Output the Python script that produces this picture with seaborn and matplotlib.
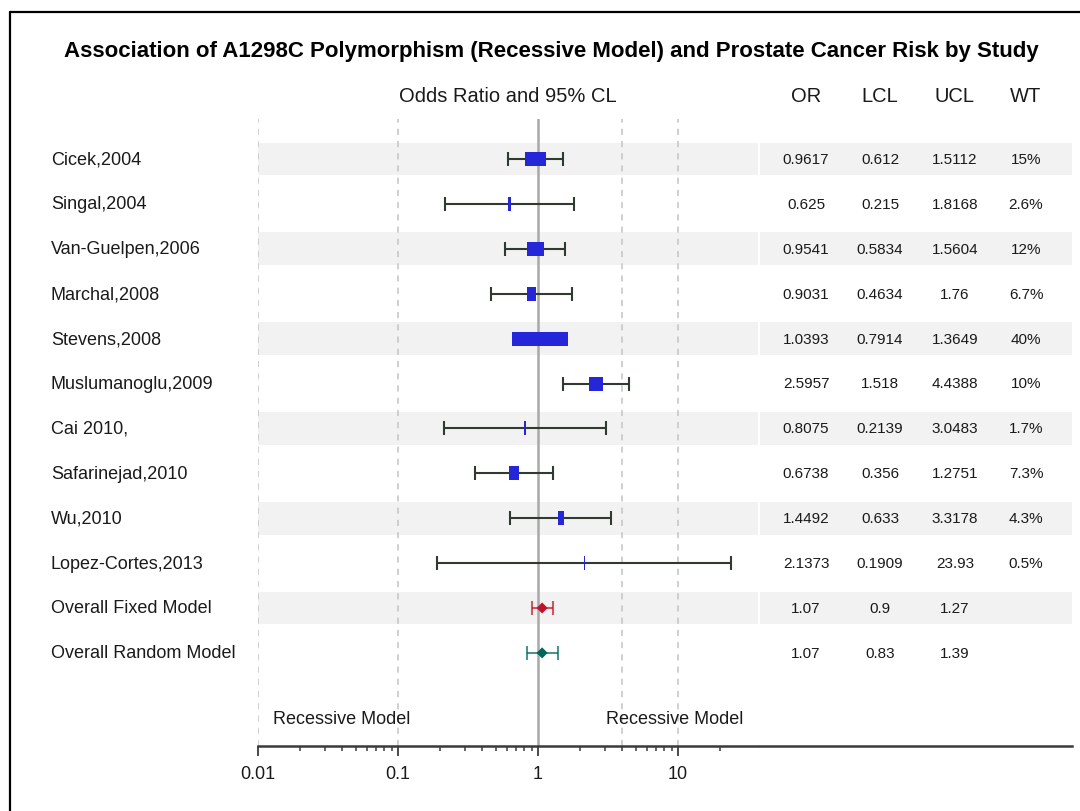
import numpy as np
import pandas as pd
import matplotlib
matplotlib.use("Agg")
import matplotlib.pyplot as plt
import matplotlib.transforms as mtransforms
from matplotlib.lines import Line2D
from matplotlib import font_manager
import seaborn as sns

# ---- data -------------------------------------------------------------
studies = ["Cicek,2004", "Singal,2004", "Van-Guelpen,2006", "Marchal,2008",
           "Stevens,2008", "Muslumanoglu,2009", "Cai 2010,", "Safarinejad,2010",
           "Wu,2010", "Lopez-Cortes,2013"]
odds_ratio = [0.9617, 0.625, 0.9541, 0.9031, 1.0393, 2.5957, 0.8075, 0.6738, 1.4492, 2.1373]
lower_cl = [0.612, 0.215, 0.5834, 0.4634, 0.7914, 1.518, 0.2139, 0.356, 0.633, 0.1909]
upper_cl = [1.5112, 1.8168, 1.5604, 1.76, 1.3649, 4.4388, 3.0483, 1.2751, 3.3178, 23.93]
weight_pct = [15, 2.6, 12, 6.7, 40, 10, 1.7, 7.3, 4.3, 0.5]

pooled_models = ["Overall Fixed Model", "Overall Random Model"]
pooled_or = [1.07, 1.07]
pooled_lcl = [0.9, 0.83]
pooled_ucl = [1.27, 1.39]

table_headers = ["OR", "LCL", "UCL", "WT"]
ref_lines = [0.01, 0.1, 4, 10]
major_ticks = [0.01, 0.1, 1, 10]
tick_labels = ["0.01", "0.1", "1", "10"]

title = ("Association of A1298C Polymorphism (Recessive Model) "
         "and Prostate Cancer Risk by Study")

# ---- style ------------------------------------------------------------
sns.set_style("white")
available = {f.name for f in font_manager.fontManager.ttflist}
narrow = "Liberation Sans Narrow" in available
base = "Liberation Sans Narrow" if narrow else "Liberation Sans"
plt.rcParams["font.family"] = [base, "DejaVu Sans"]
k = 1.15 if narrow else 1.0   # narrow face can run a little larger

FS_LABEL = 13 * k
FS_HEAD = 14.5 * k
FS_TABLE = 11 * k
FS_TICK = 13 * k
FS_TITLE = 16 * k

TXT = "#1a1a1a"
BAND = "#f2f2f2"
SQUARE = "#2626d9"
WHISKER = "#2f3a30"
FIXED = "#c0142c"
RANDOM = "#00665c"

W, H = 1080, 812
fig = plt.figure(figsize=(W / 100, H / 100), dpi=100)


def fx(px):
    return px / W


def fy(py):
    return 1 - py / H


# row pitch and placement in pixel terms
pitch = 44.9
first_row = 160
top_px, bottom_px = 120, 747
ylim = ((bottom_px - first_row) / pitch, (top_px - first_row) / pitch)

ax = fig.add_axes([fx(258), fy(bottom_px), fx(758) - fx(258), fy(top_px) - fy(bottom_px)])
tab = fig.add_axes([fx(760), fy(bottom_px), fx(1072) - fx(760), fy(top_px) - fy(bottom_px)])

n_study = len(studies)
rows = np.arange(n_study)
pool_rows = np.arange(n_study, n_study + len(pooled_models))
n_rows = n_study + len(pooled_models)

# alternating shaded bands
for a in (ax, tab):
    for r in range(0, n_rows, 2):
        a.axhspan(r - 0.367, r + 0.367, color=BAND, lw=0, zorder=0)

ax.set_xscale("log")
ax.set_xlim(0.01, 10 ** (220 / 140))
ax.set_ylim(*ylim)
tab.set_xlim(760, 1072)
tab.set_ylim(*ylim)

for v in ref_lines:
    ax.axvline(v, color="#c4c4c4", lw=1.1, ls=(0, (4, 4)), zorder=1)
ax.axvline(1, color="#a8a8a8", lw=1.8, zorder=1)

# study confidence intervals
xerr = [np.array(odds_ratio) - np.array(lower_cl), np.array(upper_cl) - np.array(odds_ratio)]
ax.errorbar(odds_ratio, rows, xerr=xerr, fmt="none", ecolor=WHISKER,
            elinewidth=1.5, capsize=4.8, capthick=1.5, zorder=3)

# study boxes: width follows the study weight, height is fixed
df = pd.DataFrame({"study": studies, "OR": odds_ratio, "row": rows, "wt": weight_pct})
box_h = 14.0
markers, sizes = {}, {}
for s, wt in zip(studies, weight_pct):
    w = 1.4 * wt
    markers[s] = [(-w / 2, -box_h / 2), (w / 2, -box_h / 2), (w / 2, box_h / 2),
                  (-w / 2, box_h / 2), (-w / 2, -box_h / 2)]
    sizes[s] = (max(w, box_h) * 0.72) ** 2
sns.scatterplot(data=df, x="OR", y="row", style="study", markers=markers,
                size="study", sizes=sizes, color=SQUARE, linewidth=0,
                legend=False, ax=ax, zorder=4)

# pooled estimates
pool_colors = [FIXED, RANDOM]
for r, o, lo, hi, c in zip(pool_rows, pooled_or, pooled_lcl, pooled_ucl, pool_colors):
    ax.errorbar([o], [r], xerr=[[o - lo], [hi - o]], fmt="none", ecolor=c, alpha=0.7,
                elinewidth=1.5, capsize=4.8, capthick=1.5, zorder=3)
pdf = pd.DataFrame({"model": pooled_models, "OR": pooled_or, "row": pool_rows})
sns.scatterplot(data=pdf, x="OR", y="row", hue="model", palette=pool_colors,
                marker="D", s=32, linewidth=0, legend=False, ax=ax, zorder=5)

# axes cosmetics
for a in (ax, tab):
    for side in ("top", "right", "left"):
        a.spines[side].set_visible(False)
    a.spines["bottom"].set_color("#3a3a3a")
    a.spines["bottom"].set_linewidth(1.8)
    a.set_xlabel("")
    a.set_ylabel("")
    a.set_yticks([])
tab.set_xticks([])

ax.xaxis.set_major_locator(matplotlib.ticker.FixedLocator(major_ticks))
ax.xaxis.set_major_formatter(matplotlib.ticker.FixedFormatter(tick_labels))
minor = [m * d for d in (0.01, 0.1, 1) for m in range(2, 10)] + [20]
ax.xaxis.set_minor_locator(matplotlib.ticker.FixedLocator(minor))
ax.xaxis.set_minor_formatter(matplotlib.ticker.NullFormatter())
ax.tick_params(axis="x", which="major", direction="out", length=7.5, width=1.3,
               color="#3a3a3a", labelsize=FS_TICK, labelcolor=TXT, pad=6, bottom=True)
ax.tick_params(axis="x", which="minor", direction="out", length=3.8, width=1.1,
               color="#3a3a3a", bottom=True)

# left labels
lbl_tr = mtransforms.blended_transform_factory(fig.transFigure, ax.transData)
for r, s in zip(list(rows) + list(pool_rows), studies + pooled_models):
    ax.text(fx(51), r, s, transform=lbl_tr, ha="left", va="center",
            fontsize=FS_LABEL, color=TXT)

# table of estimates
col_x = [806, 880, 955, 1026]
for r, o, lo, hi, wt in zip(rows, odds_ratio, lower_cl, upper_cl, weight_pct):
    for x, val in zip(col_x, [f"{o:g}", f"{lo:g}", f"{hi:g}", f"{wt:g}%"]):
        tab.text(x, r, val, ha="center", va="center", fontsize=FS_TABLE, color=TXT)
for r, o, lo, hi in zip(pool_rows, pooled_or, pooled_lcl, pooled_ucl):
    for x, val in zip(col_x, [f"{o:g}", f"{lo:g}", f"{hi:g}"]):
        tab.text(x, r, val, ha="center", va="center", fontsize=FS_TABLE, color=TXT)

# headers and titles
for x, h in zip(col_x, table_headers):
    fig.text(fx(x), fy(97), h, ha="center", va="center", fontsize=FS_HEAD, color=TXT)
fig.text(fx(508), fy(97), "Odds Ratio and 95% CL", ha="center", va="center",
         fontsize=FS_HEAD, color=TXT)
fig.text(fx(551), fy(52), title, ha="center", va="center", fontsize=FS_TITLE,
         fontweight="bold", color="black")

fig.text(fx(273), fy(720), "Recessive Model", ha="left", va="center",
         fontsize=FS_LABEL, color=TXT)
fig.text(fx(743), fy(720), "Recessive Model", ha="right", va="center",
         fontsize=FS_LABEL, color=TXT)

# frame lines along the top and left edges
fig.add_artist(Line2D([fx(10), 1], [fy(13), fy(13)], color="black", lw=1.6,
                      transform=fig.transFigure))
fig.add_artist(Line2D([fx(10), fx(10)], [fy(13), 0], color="black", lw=1.6,
                      transform=fig.transFigure))

fig.savefig("out.png", dpi=100)
